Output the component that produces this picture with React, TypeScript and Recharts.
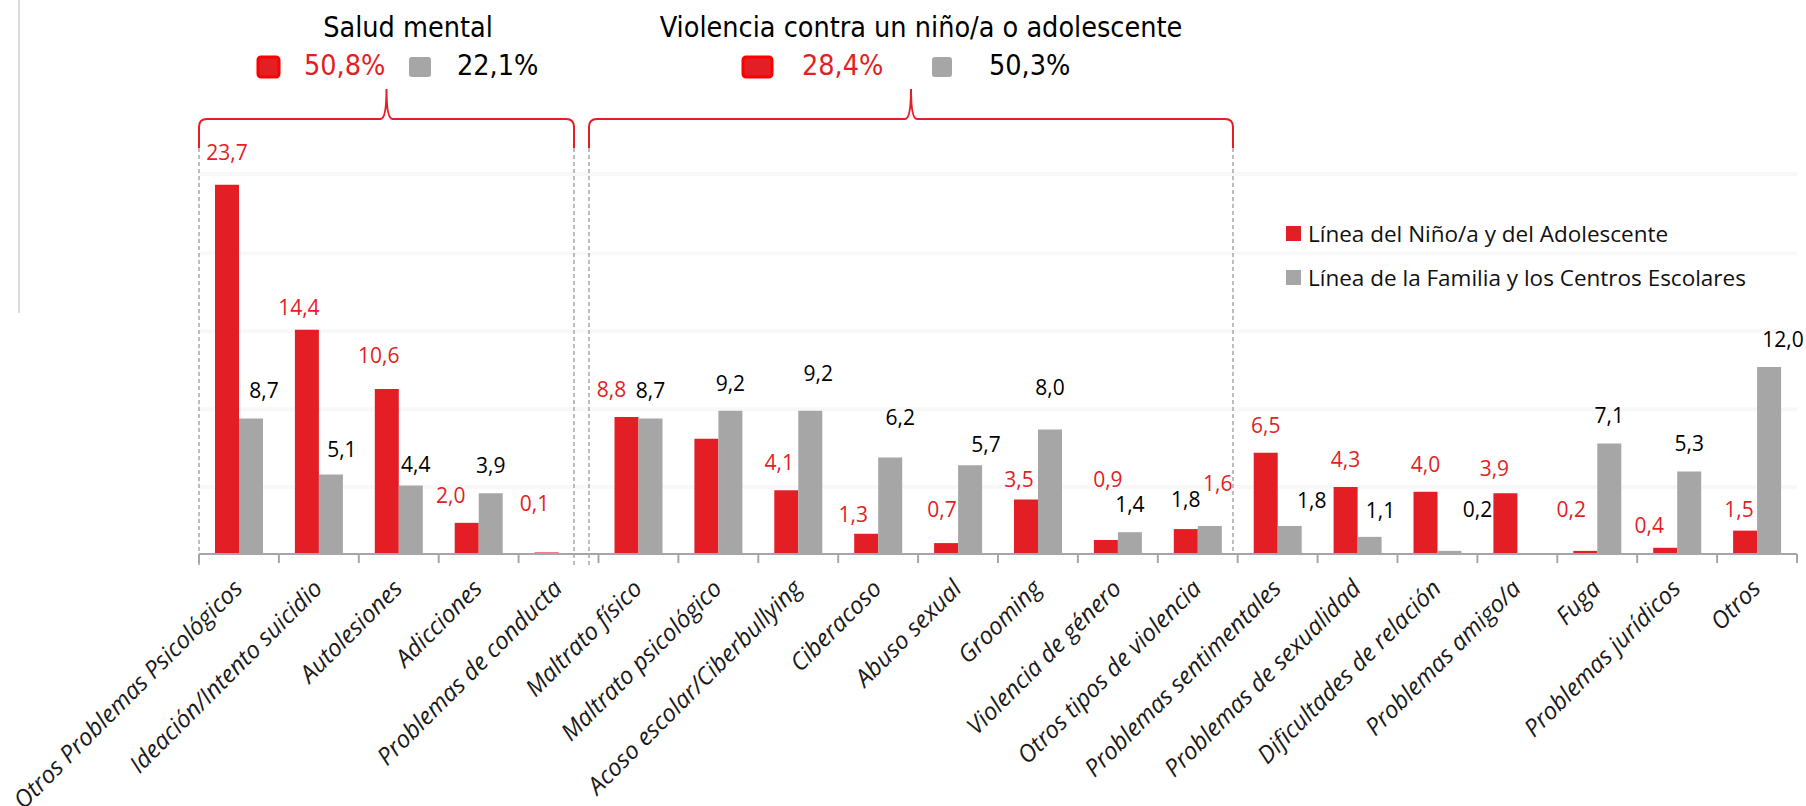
import React from 'react';
import { BarChart, Bar, XAxis, YAxis, CartesianGrid, Legend, LabelList } from 'recharts';

const categories = [
  'Otros Problemas Psicológicos',
  'Ideación/Intento suicidio',
  'Autolesiones',
  'Adicciones',
  'Problemas de conducta',
  'Maltrato físico',
  'Maltrato psicológico',
  'Acoso escolar/Ciberbullying',
  'Ciberacoso',
  'Abuso sexual',
  'Grooming',
  'Violencia de género',
  'Otros tipos de violencia',
  'Problemas sentimentales',
  'Problemas de sexualidad',
  'Dificultades de relación',
  'Problemas amigo/a',
  'Fuga',
  'Problemas jurídicos',
  'Otros',
];

// Línea del Niño/a y del Adolescente
const lineaNino = [23.7, 14.4, 10.6, 2.0, 0.1, 8.8, 7.4, 4.1, 1.3, 0.7, 3.5, 0.9, 1.6, 6.5, 4.3, 4.0, 3.9, 0.2, 0.4, 1.5];
// Línea de la Familia y los Centros Escolares
const lineaFamilia = [8.7, 5.1, 4.4, 3.9, 0, 8.7, 9.2, 9.2, 6.2, 5.7, 8.0, 1.4, 1.8, 1.8, 1.1, 0.2, 0, 7.1, 5.3, 12.0];

const seriesNames = ['Línea del Niño/a y del Adolescente', 'Línea de la Familia y los Centros Escolares'];

const groupTitles = ['Salud mental', 'Violencia contra un niño/a o adolescente'];
const groupNino = ['50,8%', '28,4%'];
const groupFamilia = ['22,1%', '50,3%'];

// faint background bands
const gridTicks = [4.3, 9.3, 14.3, 19.3, 24.4];

// the original hides this label
const hiddenNinoLabels = ['Maltrato psicológico'];

const data = categories.map((name, i) => ({ name, nino: lineaNino[i], familia: lineaFamilia[i] }));

const RED = '#E31E24';
const GRAY = '#A6A6A6';
const LABEL_FONT = "'Open Sans', 'Noto Sans', sans-serif";
const TITLE_FONT = "'DejaVu Sans Condensed', 'DejaVu Sans', sans-serif";

const W = 1806;
const H = 806;
const PLOT_LEFT = 199;
const PLOT_RIGHT = 1797;
const PLOT_TOP = 149;
const AXIS_Y = 554;
const BAND = (PLOT_RIGHT - PLOT_LEFT) / categories.length;

// manual label nudges (dx, dy) as in the original slide
const ninoNudge: Record<string, [number, number]> = {
  'Otros Problemas Psicológicos': [0, -5],
  'Ideación/Intento suicidio': [-8, 5],
  'Autolesiones': [-8, -6],
  'Adicciones': [-16, 0],
  'Problemas de conducta': [-12, -21],
  'Maltrato físico': [-15, 0],
  'Acoso escolar/Ciberbullying': [-7, 0],
  'Ciberacoso': [-13, 8],
  'Abuso sexual': [-4, -6],
  'Grooming': [-7, 8],
  'Violencia de género': [2, -33],
  'Otros tipos de violencia': [32, -18],
  'Problemas amigo/a': [-11, 3],
  'Fuga': [-14, -14],
  'Problemas jurídicos': [-16, 5],
  'Otros': [-6, 6],
};
const familiaNudge: Record<string, [number, number]> = {
  'Otros Problemas Psicológicos': [13, 0],
  'Ideación/Intento suicidio': [11, 2],
  'Autolesiones': [5, 7],
  'Acoso escolar/Ciberbullying': [8, -10],
  'Ciberacoso': [10, -12],
  'Abuso sexual': [16, 7],
  'Grooming': [0, -14],
  'Otros tipos de violencia': [-24, 1],
  'Problemas sentimentales': [22, 2],
  'Problemas de sexualidad': [11, 1],
  'Dificultades de relación': [28, -14],
  'Otros': [14, 0],
};

const fmt = (v: number) => v.toFixed(1).replace('.', ',');

// LabelList gets the category name, so zero-height bars don't shift the lookup
const makeLabel = (series: 'nino' | 'familia') => (props: any) => {
  const { x, y, width, value } = props;
  const name = String(value);
  const i = categories.indexOf(name);
  const v = series === 'nino' ? lineaNino[i] : lineaFamilia[i];
  if (!v) return null;
  if (series === 'nino' && hiddenNinoLabels.includes(name)) return null;
  const nudge = (series === 'nino' ? ninoNudge : familiaNudge)[name] || [0, 0];
  return (
    <text
      x={Number(x) + Number(width) / 2 + nudge[0]}
      y={Number(y) - 20 + nudge[1]}
      textAnchor="middle"
      fontFamily={LABEL_FONT}
      fontSize={21}
      fill={series === 'nino' ? RED : '#000'}
    >
      {fmt(v)}
    </text>
  );
};

const CategoryTick = (props: any) => {
  const { x, y, payload, index } = props;
  const ax = x + 5;
  const ay = y + 36;
  return (
    <g>
      <line x1={x - BAND / 2} x2={x - BAND / 2} y1={y} y2={y + 9} stroke={GRAY} strokeWidth={2} />
      {index === categories.length - 1 && (
        <line x1={x + BAND / 2} x2={x + BAND / 2} y1={y} y2={y + 9} stroke={GRAY} strokeWidth={2} />
      )}
      <text
        x={ax}
        y={ay}
        textAnchor="end"
        transform={`rotate(-45, ${ax}, ${ay})`}
        fontFamily={LABEL_FONT}
        fontStyle="italic"
        fontSize={24}
        fill="#1a1a1a"
      >
        {payload.value}
      </text>
    </g>
  );
};

const renderLegend = (props: any) => {
  const items = [...(props.payload || [])].sort(
    (a: any, b: any) => seriesNames.indexOf(a.value) - seriesNames.indexOf(b.value)
  );
  return (
    <div>
      {items.map((p: any) => (
        <div key={p.value} style={{ display: 'flex', alignItems: 'center', height: 44 }}>
          <span style={{ width: 15, height: 15, background: p.color, display: 'inline-block', marginRight: 7 }} />
          <span style={{ fontFamily: LABEL_FONT, fontSize: 22.5, color: '#111', whiteSpace: 'nowrap' }}>{p.value}</span>
        </div>
      ))}
    </div>
  );
};

// header boxes: [redSquareX, redSquareW, redTextX, graySquareX, graySquareW, grayTextX, titleCenter]
const headerLayout = [
  [258, 21, 304, 409, 22, 457, 408],
  [743, 29, 802, 932, 20, 989, 921],
];
// bracket spans in pixels: [left, right]
const bracketLayout = [
  [199, 574],
  [589, 1233],
];

const bracePath = (x0: number, x1: number) => {
  const pk = (x0 + x1) / 2;
  const top = 119;
  const end = 148;
  return `M${x0} ${end} L${x0} ${top + 8} Q${x0} ${top} ${x0 + 8} ${top} L${pk - 6} ${top} Q${pk} ${top} ${pk} 89 Q${pk} ${top} ${pk + 6} ${top} L${x1 - 8} ${top} Q${x1} ${top} ${x1} ${top + 8} L${x1} ${end}`;
};

const Overlay = () => (
  <svg width={W} height={H} style={{ position: 'absolute', left: 0, top: 0, pointerEvents: 'none' }}>
    <line x1={19} x2={19} y1={0} y2={313} stroke="#dcdcdc" strokeWidth={2} />
    {groupTitles.map((t, i) => {
      const [rx, rw, rtx, gx, gw, gtx, tc] = headerLayout[i];
      return (
        <g key={t}>
          <text x={tc} y={37} textAnchor="middle" fontFamily={TITLE_FONT} fontSize={28.5} fill="#000">
            {t}
          </text>
          <rect x={rx} y={57} width={rw} height={20} rx={3} fill={RED} stroke="#FF0000" strokeWidth={3} />
          <text x={rtx} y={75} fontFamily={TITLE_FONT} fontSize={28.5} fill={RED}>
            {groupNino[i]}
          </text>
          <rect x={gx} y={57} width={gw} height={20} rx={3} fill={GRAY} />
          <text x={gtx} y={75} fontFamily={TITLE_FONT} fontSize={28.5} fill="#000">
            {groupFamilia[i]}
          </text>
        </g>
      );
    })}
    {bracketLayout.map(([x0, x1]) => (
      <path key={x0} d={bracePath(x0, x1)} fill="none" stroke={RED} strokeWidth={2} />
    ))}
    {[199, 574, 589].map((x) => (
      <line key={x} x1={x} x2={x} y1={148} y2={568} stroke={GRAY} strokeWidth={1.5} strokeDasharray="4 3" />
    ))}
    <line x1={1233} x2={1233} y1={148} y2={554} stroke={GRAY} strokeWidth={1.5} strokeDasharray="4 3" />
  </svg>
);

export default function App() {
  return (
    <div style={{ position: 'absolute', left: 0, top: 0, width: W, height: H, background: '#fff', overflow: 'hidden' }}>
      <BarChart
        width={W}
        height={H}
        data={data}
        margin={{ top: PLOT_TOP, right: W - PLOT_RIGHT, bottom: 0, left: PLOT_LEFT }}
        barGap={0}
        barSize={24}
      >
        <CartesianGrid vertical={false} horizontalValues={gridTicks} stroke="#f8f8f8" strokeWidth={4} />
        <XAxis
          dataKey="name"
          height={H - AXIS_Y}
          interval={0}
          tickSize={0}
          tickMargin={0}
          tickLine={false}
          axisLine={{ stroke: GRAY, strokeWidth: 2 }}
          tick={CategoryTick}
        />
        <YAxis hide domain={[0, 26]} ticks={gridTicks} />
        <Legend
          layout="vertical"
          align="center"
          verticalAlign="middle"
          content={renderLegend}
          wrapperStyle={{ position: 'absolute', left: 1286, top: 211, width: 500, height: 90 }}
        />
        <Bar dataKey="nino" name={seriesNames[0]} fill={RED} isAnimationActive={false}>
          <LabelList dataKey="name" content={makeLabel('nino')} />
        </Bar>
        <Bar dataKey="familia" name={seriesNames[1]} fill={GRAY} isAnimationActive={false}>
          <LabelList dataKey="name" content={makeLabel('familia')} />
        </Bar>
      </BarChart>
      <Overlay />
    </div>
  );
}
